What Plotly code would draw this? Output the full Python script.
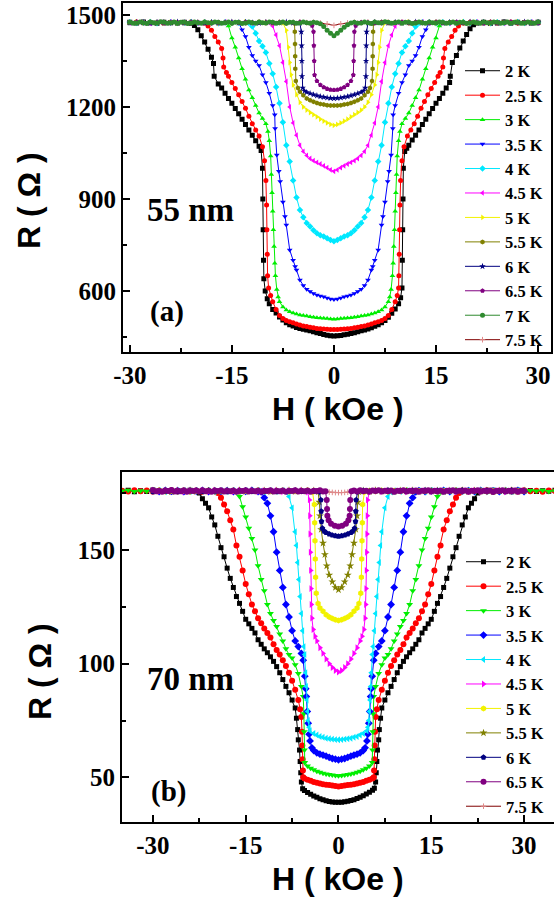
import plotly.graph_objects as go

# ---------------- Panel (a): 55 nm, (H [kOe], R [Ohm]) ----------------
A_2K = [(-30,1476),(-29,1474),(-28,1477),(-27,1475),(-26,1473),(-25,1476),(-24,1475),(-23,1474),(-22,1476),(-21,1473),
        (-20.5,1466),(-20,1452),(-19.5,1432),(-19,1412),(-18.5,1388),(-18,1362),(-17.7,1342),(-17.6,1300),(-17,1275),(-16.5,1262),
        (-16,1245),(-15.5,1228),(-15,1212),(-14.5,1195),(-14,1178),(-13.5,1160),(-13,1143),(-12.5,1125),(-12,1108),(-11.5,1090),
        (-11,1072),(-10.7,1058),(-10.5,1000),(-10.45,900),(-10.4,800),(-10.35,700),(-10.3,640),(-10.1,600),(-9.8,575),(-9.5,558),
        (-9,540),(-8.5,528),(-8,515),(-7.5,505),(-7,496),(-6.5,490),(-6,486),(-5.5,481),(-5,478),(-4.5,475),(-4,473),(-3.5,470),
        (-3,467),(-2.5,464),(-2,461),(-1.5,458),(-1,456),(-0.5,454),(0,453),
        (0.5,454),(1,455),(1.5,457),(2,459),(2.5,461),(3,464),(3.5,467),(4,470),(4.5,473),(5,476),(5.5,480),(6,485),(6.5,490),
        (7,496),(7.5,504),(8,514),(8.5,527),(9,541),(9.5,558),(9.8,578),(10,610),(10.05,700),(10.1,800),(10.15,900),(10.2,1000),
        (10.4,1055),(10.7,1065),(11,1075),(11.5,1092),(12,1108),(12.5,1125),(13,1143),(13.5,1160),(14,1178),(14.5,1195),(15,1212),
        (15.5,1228),(16,1245),(16.5,1262),(17,1280),(17.1,1300),(17.4,1345),(18,1368),(18.5,1392),(19,1415),(19.5,1436),(20,1455),
        (20.5,1468),(21,1474),(22,1476),(23,1473),(24,1475),(25,1477),(26,1474),(27,1476),(28,1475),(29,1474),(30,1476)]

A_25K = [(-30,1475),(-29,1477),(-28,1474),(-27,1476),(-26,1475),(-25,1473),(-24,1476),(-23,1475),(-22,1474),(-21,1477),(-20,1475),(-19,1473),
         (-18.5,1464),(-18,1450),(-17.5,1430),(-17,1412),(-16.5,1391),(-16.3,1360),(-16.2,1330),(-15.8,1312),(-15.5,1300),(-15,1280),
         (-14.5,1260),(-14,1240),(-13.5,1218),(-13,1196),(-12.5,1170),(-12,1145),(-11.5,1125),(-11,1105),(-10.5,1070),(-10.2,1025),
         (-10,960),(-9.9,880),(-9.85,800),(-9.8,720),(-9.75,650),(-9.6,610),(-9.3,585),(-9,565),(-8.5,540),(-8,520),(-7.5,510),
         (-7,504),(-6.5,500),(-6,496),(-5.5,492),(-5,489),(-4.5,486),(-4,484),(-3.5,482),(-3,480),(-2.5,478),(-2,477),(-1.5,476),
         (-1,475),(-0.5,474),(0,474),
         (0.5,474),(1,475),(1.5,476),(2,477),(2.5,478),(3,480),(3.5,482),(4,484),(4.5,486),(5,489),(5.5,492),(6,496),(6.5,500),
         (7,504),(7.5,510),(8,520),(8.5,540),(9,565),(9.3,585),(9.5,610),(9.55,650),(9.6,720),(9.65,800),(9.7,880),(9.8,960),
         (10,1025),(10.3,1070),(10.8,1105),(11.3,1125),(11.8,1145),(12.3,1170),(12.8,1196),(13.3,1218),(13.8,1240),(14.3,1260),
         (14.8,1280),(15.3,1300),(15.6,1312),(16,1330),(16.1,1360),(16.3,1391),(16.8,1412),(17.3,1430),(17.8,1450),(18.3,1464),
         (19,1474),(20,1476),(21,1475),(22,1473),(23,1476),(24,1474),(25,1475),(26,1477),(27,1474),(28,1475),(29,1476),(30,1474)]

A_3K = [(-30,1474),(-29,1476),(-28,1475),(-27,1473),(-26,1477),(-25,1475),(-24,1474),(-23,1476),(-22,1475),(-21,1473),(-20,1476),
        (-19,1474),(-18,1477),(-17,1475),(-16,1473),
        (-15.5,1464),(-15,1425),(-14.5,1395),(-14,1360),(-13.5,1325),(-13,1290),(-12.5,1255),(-12,1230),(-11.5,1205),(-11,1180),
        (-10.5,1162),(-10,1145),(-9.7,1120),(-9.5,1090),(-9.3,1040),(-9.2,980),(-9.1,920),(-9,860),(-8.9,800),(-8.8,745),(-8.7,690),
        (-8.6,650),(-8.4,605),(-8.2,580),(-8,565),(-7.5,548),(-7,538),(-6.5,532),(-6,528),(-5.5,525),(-5,522),(-4.5,520),(-4,518),
        (-3.5,516),(-3,514),(-2.5,513),(-2,512),(-1.5,511),(-1,510),(-0.5,509),(0,508),
        (0.5,509),(1,510),(1.5,511),(2,512),(2.5,513),(3,514),(3.5,516),(4,518),(4.5,520),(5,522),(5.5,525),(6,528),(6.5,532),
        (7,538),(7.5,548),(8,565),(8.2,580),(8.4,605),(8.6,650),(8.7,690),(8.8,745),(8.9,800),(9,860),(9.1,920),(9.2,980),
        (9.3,1040),(9.5,1090),(9.7,1120),(10,1145),(10.5,1162),(11,1180),(11.5,1205),(12,1230),(12.5,1255),(13,1290),(13.5,1325),
        (14,1360),(14.5,1395),(15,1425),(15.5,1464),
        (16,1475),(17,1477),(18,1474),(19,1476),(20,1475),(21,1473),(22,1476),(23,1474),(24,1475),(25,1477),(26,1474),(27,1476),
        (28,1475),(29,1473),(30,1476)]

A_35K = [(-30,1475),(-29,1473),(-28,1476),(-27,1474),(-26,1477),(-25,1475),(-24,1473),(-23,1476),(-22,1475),(-21,1474),(-20,1477),
         (-19,1475),(-18,1473),(-17,1476),(-16,1474),(-15,1475),(-14,1474),
         (-13.5,1452),(-13,1430),(-12.5,1395),(-12,1368),(-11.5,1350),(-11,1335),(-10.5,1305),(-10,1280),(-9.5,1245),(-9,1205),
         (-8.7,1175),(-8.65,1130),(-8.4,1043),(-8.1,990),(-7.9,957),(-7.5,890),(-7.2,843),(-7,815),(-6.5,734),(-6,700),(-5.7,680),
         (-5.5,668),(-5,636),(-4.5,618),(-4,606),(-3.5,598),(-3,592),(-2.5,587),(-2,584),(-1.5,581),(-1,577),(-0.5,574),(0,572),
         (0.5,574),(1,577),(1.5,581),(2,584),(2.5,587),(3,592),(3.5,598),(4,606),(4.5,618),(5,636),(5.5,668),(5.7,680),(6,700),
         (6.5,734),(7,815),(7.2,843),(7.5,890),(7.9,957),(8.1,990),(8.4,1043),(8.65,1130),(8.7,1175),(9,1205),(9.5,1245),(10,1280),
         (10.5,1305),(11,1335),(11.5,1350),(12,1368),(12.5,1395),(13,1430),(13.5,1452),
         (14,1475),(15,1473),(16,1476),(17,1474),(18,1477),(19,1475),(20,1473),(21,1476),(22,1475),(23,1474),(24,1477),(25,1475),
         (26,1473),(27,1476),(28,1474),(29,1475),(30,1476)]

A_4K = [(-30,1476),(-29,1474),(-28,1475),(-27,1477),(-26,1473),(-25,1475),(-24,1476),(-23,1474),(-22,1475),(-21,1477),(-20,1474),
        (-19,1476),(-18,1475),(-17,1473),(-16,1476),(-15,1474),(-14,1475),(-13,1476),(-12.5,1474),
        (-12,1462),(-11.5,1440),(-11,1415),(-10.5,1398),(-10,1378),(-9.5,1342),(-9,1308),(-8.5,1265),(-8,1212),(-7.5,1150),
        (-7,1075),(-6.5,1022),(-6,960),(-5.5,905),(-5,864),(-4.5,840),(-4,822),(-3.5,810),(-3,798),(-2.5,788),(-2,782),(-1.5,778),
        (-1,772),(-0.5,766),(0,762),
        (0.5,766),(1,772),(1.5,778),(2,782),(2.5,788),(3,798),(3.5,810),(4,822),(4.5,840),(5,864),(5.5,905),(6,960),(6.5,1022),
        (7,1075),(7.5,1150),(8,1212),(8.5,1265),(9,1308),(9.5,1342),(10,1378),(10.5,1398),(11,1415),(11.5,1440),(12,1462),
        (12.5,1474),(13,1476),(14,1475),(15,1473),(16,1476),(17,1474),(18,1475),(19,1477),(20,1474),(21,1476),(22,1475),(23,1473),
        (24,1476),(25,1474),(26,1475),(27,1477),(28,1474),(29,1476),(30,1475)]

A_45K = [(-30,1474),(-29,1476),(-28,1475),(-27,1473),(-26,1476),(-25,1475),(-24,1477),(-23,1474),(-22,1476),(-21,1475),(-20,1473),
         (-19,1476),(-18,1474),(-17,1475),(-16,1477),(-15,1474),(-14,1476),(-13,1475),(-12,1473),(-11,1476),(-10,1475),
         (-9.5,1474),(-9,1464),(-8.5,1435),(-8,1400),(-7.5,1345),(-7,1283),(-6.5,1200),(-6,1148),(-5.5,1108),(-5,1075),(-4.5,1055),
         (-4,1042),(-3.5,1032),(-3,1025),(-2.5,1019),(-2,1014),(-1.5,1008),(-1,1002),(-0.5,995),(0,990),
         (0.5,995),(1,1002),(1.5,1008),(2,1014),(2.5,1019),(3,1025),(3.5,1032),(4,1042),(4.5,1055),(5,1075),(5.5,1108),(6,1148),
         (6.5,1200),(7,1283),(7.5,1345),(8,1400),(8.5,1435),(9,1464),(9.5,1474),
         (10,1476),(11,1474),(12,1475),(13,1477),(14,1474),(15,1476),(16,1475),(17,1473),(18,1476),(19,1474),(20,1475),(21,1477),
         (22,1474),(23,1476),(24,1475),(25,1473),(26,1476),(27,1474),(28,1475),(29,1477),(30,1475)]

A_5K = [(-30,1475),(-29,1477),(-28,1474),(-27,1476),(-26,1475),(-25,1473),(-24,1476),(-23,1474),(-22,1475),(-21,1477),(-20,1474),
        (-19,1476),(-18,1475),(-17,1473),(-16,1476),(-15,1474),(-14,1475),(-13,1477),(-12,1474),(-11,1476),(-10,1475),(-9,1473),
        (-8,1476),(-7.5,1474),(-7,1450),(-6.7,1395),(-6.5,1345),(-6.3,1305),(-6,1272),(-5.5,1240),(-5,1215),(-4.5,1200),(-4,1190),
        (-3.5,1182),(-3,1175),(-2.5,1168),(-2,1160),(-1.5,1154),(-1,1148),(-0.5,1143),(0,1140),
        (0.5,1143),(1,1148),(1.5,1154),(2,1160),(2.5,1168),(3,1175),(3.5,1182),(4,1190),(4.5,1200),(5,1215),(5.5,1240),(6,1272),
        (6.3,1305),(6.5,1345),(6.7,1395),(7,1450),(7.5,1474),
        (8,1476),(9,1474),(10,1475),(11,1477),(12,1474),(13,1476),(14,1475),(15,1473),(16,1476),(17,1474),(18,1475),(19,1477),
        (20,1474),(21,1476),(22,1475),(23,1473),(24,1476),(25,1474),(26,1475),(27,1477),(28,1474),(29,1476),(30,1475)]

A_55K = [(-30,1476),(-29,1474),(-28,1475),(-27,1477),(-26,1474),(-25,1476),(-24,1475),(-23,1473),(-22,1476),(-21,1474),(-20,1475),
         (-19,1477),(-18,1474),(-17,1476),(-16,1475),(-15,1473),(-14,1476),(-13,1474),(-12,1475),(-11,1477),(-10,1474),(-9,1476),
         (-8,1475),(-7,1473),(-6,1475),
         (-5.8,1472),(-5.75,1445),(-5.72,1405),(-5.7,1365),(-5.68,1325),(-5.6,1285),(-5.3,1262),(-5,1250),(-4.5,1238),(-4,1228),
         (-3.5,1222),(-3,1217),(-2.5,1213),(-2,1210),(-1.5,1208),(-1,1206),(-0.5,1205),(0,1205),
         (0.5,1205),(1,1206),(1.5,1208),(2,1210),(2.5,1213),(3,1217),(3.5,1222),(4,1228),(4.5,1238),(5,1250),(5.3,1262),(5.6,1285),
         (5.68,1325),(5.7,1365),(5.72,1405),(5.75,1445),(5.8,1472),
         (6,1475),(7,1477),(8,1474),(9,1476),(10,1475),(11,1473),(12,1476),(13,1474),(14,1475),(15,1477),(16,1474),(17,1476),
         (18,1475),(19,1473),(20,1476),(21,1474),(22,1475),(23,1477),(24,1474),(25,1476),(26,1475),(27,1473),(28,1476),(29,1474),
         (30,1475)]

A_6K = [(-30,1474),(-29,1476),(-28,1475),(-27,1473),(-26,1476),(-25,1474),(-24,1475),(-23,1477),(-22,1474),(-21,1476),(-20,1475),
        (-19,1473),(-18,1476),(-17,1474),(-16,1475),(-15,1477),(-14,1474),(-13,1476),(-12,1475),(-11,1473),(-10,1476),(-9,1474),
        (-8,1475),(-7,1477),(-6,1474),(-5,1474),
        (-4.8,1445),(-4.75,1400),(-4.72,1350),(-4.7,1300),(-4.6,1262),(-4.3,1252),(-4,1248),(-3.5,1244),(-3,1240),(-2.5,1237),
        (-2,1234),(-1.5,1232),(-1,1230),(-0.5,1229),(0,1228),
        (0.5,1229),(1,1230),(1.5,1232),(2,1234),(2.5,1237),(3,1240),(3.5,1244),(4,1248),(4.3,1252),(4.6,1262),(4.7,1300),
        (4.72,1350),(4.75,1400),(4.8,1445),
        (5,1474),(6,1476),(7,1475),(8,1473),(9,1476),(10,1474),(11,1475),(12,1477),(13,1474),(14,1476),(15,1475),(16,1473),
        (17,1476),(18,1474),(19,1475),(20,1477),(21,1474),(22,1476),(23,1475),(24,1473),(25,1476),(26,1474),(27,1475),(28,1477),
        (29,1474),(30,1476)]

A_65K = [(-30,1475),(-29,1477),(-28,1474),(-27,1476),(-26,1475),(-25,1473),(-24,1476),(-23,1474),(-22,1475),(-21,1477),(-20,1474),
         (-19,1476),(-18,1475),(-17,1473),(-16,1476),(-15,1474),(-14,1475),(-13,1477),(-12,1474),(-11,1476),(-10,1475),(-9,1473),
         (-8,1476),(-7,1474),(-6,1475),(-5,1477),(-4,1474),
         (-3.5,1474),(-3.2,1465),(-3,1445),(-2.95,1400),(-2.9,1350),(-2.85,1304),(-2.5,1285),(-2,1272),(-1.5,1264),(-1,1259),
         (-0.5,1256),(0,1255),
         (0.5,1256),(1,1259),(1.5,1264),(2,1272),(2.5,1285),(2.85,1304),(2.9,1350),(2.95,1400),(3,1445),(3.2,1465),(3.5,1474),
         (4,1476),(5,1475),(6,1473),(7,1476),(8,1474),(9,1475),(10,1477),(11,1474),(12,1476),(13,1475),(14,1473),(15,1476),
         (16,1474),(17,1475),(18,1477),(19,1474),(20,1476),(21,1475),(22,1473),(23,1476),(24,1474),(25,1475),(26,1477),(27,1474),
         (28,1476),(29,1475),(30,1473)]

A_7K = [(-30,1476),(-29.5,1473),(-29,1474),(-28.5,1477),(-28,1475),(-27.5,1472),(-27,1477),(-26.5,1475),(-26,1474),(-25.5,1478),
        (-25,1476),(-24.5,1473),(-24,1475),(-23.5,1477),(-23,1473),(-22.5,1476),(-22,1476),(-21.5,1472),(-21,1474),(-20.5,1477),
        (-20,1475),(-19.5,1473),(-19,1477),(-18.5,1475),(-18,1474),(-17.5,1477),(-17,1476),(-16.5,1473),(-16,1475),(-15.5,1477),
        (-15,1473),(-14.5,1476),(-14,1476),(-13.5,1472),(-13,1474),(-12.5,1477),(-12,1475),(-11.5,1473),(-11,1477),(-10.5,1475),
        (-10,1474),(-9.5,1477),(-9,1476),(-8.5,1473),(-8,1475),(-7.5,1477),(-7,1473),(-6.5,1476),(-6,1476),(-5.5,1473),(-5,1474),
        (-4.5,1477),(-4,1475),(-3.5,1473),(-3,1476),(-2.5,1475),
        (-2,1471),(-1.5,1462),(-1,1450),(-0.5,1440),(0,1432),(0.5,1440),(1,1450),(1.5,1460),(2,1468),(2.5,1474),
        (3,1476),(3.5,1473),(4,1474),(4.5,1477),(5,1475),(5.5,1472),(6,1477),(6.5,1475),(7,1474),(7.5,1478),(8,1476),(8.5,1473),
        (9,1475),(9.5,1477),(10,1473),(10.5,1476),(11,1476),(11.5,1472),(12,1474),(12.5,1477),(13,1475),(13.5,1473),(14,1477),
        (14.5,1475),(15,1474),(15.5,1477),(16,1476),(16.5,1473),(17,1475),(17.5,1477),(18,1473),(18.5,1476),(19,1476),
        (19.5,1472),(20,1474),(20.5,1477),(21,1475),(21.5,1473),(22,1477),(22.5,1475),(23,1474),(23.5,1477),(24,1476),
        (24.5,1473),(25,1475),(25.5,1477),(26,1473),(26.5,1476),(27,1476),(27.5,1473),(28,1474),(28.5,1477),(29,1475),
        (29.5,1473),(30,1477)]

A_75K = [(-30,1477),(-29,1475),(-28,1476),(-27,1474),(-26,1476),(-25,1477),(-24,1475),(-23,1476),(-22,1474),(-21,1476),(-20,1477),
         (-19,1475),(-18,1476),(-17,1474),(-16,1476),(-15,1477),(-14,1475),(-13,1476),(-12,1474),(-11,1476),(-10,1477),(-9,1475),
         (-8,1476),(-7,1474),(-6,1476),(-5,1477),(-4,1475),(-3,1476),(-2,1474),(-1,1471),(0,1466),(1,1471),(2,1474),(3,1476),
         (4,1475),(5,1477),(6,1476),(7,1474),(8,1476),(9,1475),(10,1477),(11,1476),(12,1474),(13,1476),(14,1475),(15,1477),
         (16,1476),(17,1474),(18,1476),(19,1475),(20,1477),(21,1476),(22,1474),(23,1476),(24,1475),(25,1477),(26,1476),(27,1474),
         (28,1476),(29,1475),(30,1477)]

# ---------------- Panel (b): 70 nm ----------------
B_2K = [(-35,175.8),(-34,176.2),(-33,175.6),(-32,176.0),(-31,175.7),(-30,176.3),(-29,175.8),(-28,176.1),(-27,175.6),(-26,176.0),
        (-25,175.9),(-24,176.2),(-23,175.7),
        (-22.5,175.0),(-22,172.5),(-21.5,170.5),(-21,168.5),(-20.5,164.5),(-20,161.0),(-19.5,156.0),(-19,151.0),(-18.5,147.0),
        (-18,142.0),(-17.5,137.5),(-17,133.5),(-16.5,129.5),(-16,126.5),(-15.5,123.0),(-15,119.5),(-14.5,117.5),(-14,115.5),
        (-13.5,113.5),(-13,110.5),(-12.5,108.5),(-12,106.5),(-11.5,104.8),(-11,103.0),(-10.5,101.0),(-10,98.7),(-9.5,96.0),
        (-9,93.0),(-8.5,90.0),(-8,87.2),(-7.5,84.0),(-7,80.5),(-6.8,76.0),(-6.6,71.0),(-6.5,66.5),(-6.3,62.0),(-6.2,57.0),
        (-6.1,52.0),(-6.0,48.0),(-5.8,45.0),(-5.5,44.2),(-5,43.3),(-4.5,42.6),(-4,41.8),(-3.5,41.2),(-3,40.6),(-2.5,40.1),
        (-2,39.7),(-1.5,39.4),(-1,39.2),(-0.5,39.0),(0,39.0),
        (0.5,39.1),(1,39.3),(1.5,39.5),(2,39.8),(2.5,40.2),(3,40.7),(3.5,41.3),(4,41.9),(4.5,42.7),(5,43.4),(5.5,44.3),(5.8,45.2),
        (6.0,48.0),(6.1,52.0),(6.2,57.0),(6.3,62.0),(6.5,66.5),(6.6,71.0),(6.8,76.0),(7,80.5),(7.5,84.0),(8,87.2),(8.5,90.0),
        (9,93.0),(9.5,96.0),(10,98.7),(10.5,101.0),(11,103.0),(11.5,104.8),(12,106.5),(12.5,108.5),(13,110.5),(13.5,113.5),
        (14,115.5),(14.5,117.5),(15,119.5),(15.5,123.0),(16,126.5),(16.5,129.5),(17,133.5),(17.5,137.5),(18,142.0),(18.5,147.0),
        (19,151.0),(19.5,156.0),(20,161.0),(20.5,164.5),(21,168.5),(21.5,170.5),(22,172.5),(22.5,175.0),
        (23,176.1),(24,175.7),(25,176.2),(26,175.8),(27,176.0),(28,175.6),(29,176.2),(30,175.9),(31,176.1),(32,175.7),(33,176.0),
        (34,175.8),(35,176.2)]

B_25K = [(-35,176.0),(-34,175.7),(-33,176.2),(-32,175.8),(-31,176.1),(-30,175.6),(-29,176.0),(-28,175.9),(-27,176.2),(-26,175.7),
         (-25,176.0),(-24,175.8),(-23,176.1),(-22,175.6),(-21,176.0),(-20,175.8),
         (-19.5,175.0),(-19,173.0),(-18.5,170.0),(-18,167.0),(-17.5,163.0),(-17,159.0),(-16.5,152.0),(-16,147.0),(-15.5,141.0),
         (-15,135.0),(-14.5,130.5),(-14,126.0),(-13.5,123.0),(-13,120.0),(-12.5,117.8),(-12,115.5),(-11.5,113.5),(-11,111.5),
         (-10.5,108.5),(-10,106.0),(-9.5,104.0),(-9,101.5),(-8.5,99.0),(-8,96.0),(-7.5,92.5),(-7,88.5),(-6.5,84.0),(-6.2,80.0),
         (-6,76.5),(-5.9,70.0),(-5.85,64.0),(-5.8,58.0),(-5.75,53.0),(-5.7,50.0),(-5.5,49.5),(-5,49.0),(-4.5,48.5),(-4,48.0),
         (-3.5,47.6),(-3,47.3),(-2.5,47.0),(-2,46.8),(-1.5,46.6),(-1,46.4),(-0.5,46.2),(0,46.0),
         (0.5,46.2),(1,46.4),(1.5,46.6),(2,46.8),(2.5,47.0),(3,47.3),(3.5,47.6),(4,48.0),(4.5,48.5),(5,49.0),(5.5,49.5),(5.7,50.0),
         (5.75,53.0),(5.8,58.0),(5.85,64.0),(5.9,70.0),(6,76.5),(6.2,80.0),(6.5,84.0),(7,88.5),(7.5,92.5),(8,96.0),(8.5,99.0),
         (9,101.5),(9.5,104.0),(10,106.0),(10.5,108.5),(11,111.5),(11.5,113.5),(12,115.5),(12.5,117.8),(13,120.0),(13.5,123.0),
         (14,126.0),(14.5,130.5),(15,135.0),(15.5,141.0),(16,147.0),(16.5,152.0),(17,159.0),(17.5,163.0),(18,167.0),(18.5,170.0),
         (19,173.0),(19.5,175.0),
         (20,176.1),(21,175.7),(22,176.0),(23,175.8),(24,176.2),(25,175.6),(26,176.0),(27,175.9),(28,176.1),(29,175.7),(30,176.2),
         (31,175.8),(32,176.0),(33,175.6),(34,176.1),(35,175.9)]

B_3K = [(-35,175.9),(-34,176.2),(-33,175.7),(-32,176.0),(-31,175.8),(-30,176.1),(-29,175.6),(-28,176.0),(-27,175.8),(-26,176.2),
        (-25,175.7),(-24,176.0),(-23,175.9),(-22,176.1),(-21,175.6),(-20,176.0),(-19,175.8),(-18,176.2),(-17,175.7),
        (-16.5,175.5),(-16,173.5),(-15.5,169.0),(-15,164.5),(-14.5,159.5),(-14,155.0),(-13.5,150.0),(-13,143.0),(-12.5,137.0),
        (-12,132.0),(-11.5,126.0),(-11,122.0),(-10.5,119.0),(-10,116.3),(-9.5,113.0),(-9,110.0),(-8.5,106.5),(-8,104.0),
        (-7.5,102.5),(-7,99.5),(-6.5,95.7),(-6,90.0),(-5.7,85.5),(-5.6,78.0),(-5.55,70.0),(-5.5,62.0),(-5.45,56.5),(-5,55.0),
        (-4.5,54.0),(-4,53.3),(-3.5,52.7),(-3,52.2),(-2.5,51.8),(-2,51.5),(-1.5,51.2),(-1,51.0),(-0.5,50.8),(0,50.7),
        (0.5,50.8),(1,51.0),(1.5,51.2),(2,51.5),(2.5,51.8),(3,52.2),(3.5,52.7),(4,53.3),(4.5,54.0),(5,55.0),(5.45,56.5),(5.5,62.0),
        (5.55,70.0),(5.6,78.0),(5.7,85.5),(6,90.0),(6.5,95.7),(7,99.5),(7.5,102.5),(8,104.0),(8.5,106.5),(9,110.0),(9.5,113.0),
        (10,116.3),(10.5,119.0),(11,122.0),(11.5,126.0),(12,132.0),(12.5,137.0),(13,143.0),(13.5,150.0),(14,155.0),(14.5,159.5),
        (15,164.5),(15.5,169.0),(16,173.5),(16.5,175.5),
        (17,176.1),(18,175.7),(19,176.0),(20,175.8),(21,176.2),(22,175.6),(23,176.0),(24,175.9),(25,176.1),(26,175.7),(27,176.2),
        (28,175.8),(29,176.0),(30,175.6),(31,176.1),(32,175.9),(33,176.2),(34,175.7),(35,176.0)]

B_35K = [(-30,176.0),(-29,175.7),(-28,176.2),(-27,175.8),(-26,176.1),(-25,175.6),(-24,176.0),(-23,175.9),(-22,176.2),(-21,175.7),
         (-20,176.0),(-19,175.8),(-18,176.1),(-17,175.6),(-16,176.0),(-15,175.8),(-14,176.2),(-13,175.7),
         (-12.5,175.5),(-12,173.0),(-11.5,170.5),(-11,165.0),(-10.5,158.0),(-10,149.0),(-9.5,141.0),(-9,133.5),(-8.5,126.0),
         (-8,120.5),(-7.5,114.5),(-7,110.0),(-6.5,107.5),(-6,104.5),(-5.7,101.5),(-5.45,94.5),(-5.3,89.0),(-5.2,85.5),
         (-5.05,79.0),(-4.9,73.8),(-4.75,69.0),(-4.6,66.0),(-4.3,63.0),(-4,61.8),(-3.5,60.8),(-3,60.2),(-2.5,59.8),(-2,59.3),
         (-1.5,58.8),(-1,58.3),(-0.5,58.0),(0,57.7),
         (0.5,58.0),(1,58.3),(1.5,58.8),(2,59.3),(2.5,59.8),(3,60.2),(3.5,60.8),(4,61.8),(4.3,63.0),(4.6,66.0),(4.75,69.0),
         (4.9,73.8),(5.05,79.0),(5.2,85.5),(5.3,89.0),(5.45,94.5),(5.7,101.5),(6,104.5),(6.5,107.5),(7,110.0),(7.5,114.5),
         (8,120.5),(8.5,126.0),(9,133.5),(9.5,141.0),(10,149.0),(10.5,158.0),(11,165.0),(11.5,170.5),(12,173.0),(12.5,175.5),
         (13,176.1),(14,175.7),(15,176.0),(16,175.8),(17,176.2),(18,175.6),(19,176.0),(20,175.9),(21,176.1),(22,175.7),(23,176.2),
         (24,175.8),(25,176.0),(26,175.6),(27,176.1),(28,175.9),(29,176.2),(30,175.7)]

B_4K = [(-30,175.8),(-29,176.1),(-28,175.6),(-27,176.0),(-26,175.9),(-25,176.2),(-24,175.7),(-23,176.0),(-22,175.8),(-21,176.1),
        (-20,175.6),(-19,176.0),(-18,175.8),(-17,176.2),(-16,175.7),(-15,176.0),(-14,175.9),(-13,176.1),(-12,175.6),(-11,176.0),
        (-10,175.8),(-9,176.1),
        (-8.5,175.5),(-8,173.5),(-7.5,168.5),(-7,158.0),(-6.8,152.0),(-6.6,144.5),(-6.4,137.0),(-6.2,129.5),(-6,122.0),
        (-5.8,114.5),(-5.6,107.5),(-5.45,104.0),(-5.3,96.0),(-5.2,90.0),(-5.1,84.0),(-5,79.0),(-4.9,75.0),(-4.75,72.0),
        (-4.6,70.5),(-4,69.3),(-3.5,68.6),(-3,68.0),(-2.5,67.6),(-2,67.2),(-1.5,67.0),(-1,66.8),(-0.5,66.6),(0,66.5),
        (0.5,66.6),(1,66.8),(1.5,67.0),(2,67.2),(2.5,67.6),(3,68.0),(3.5,68.6),(4,69.3),(4.6,70.5),(4.75,72.0),(4.9,75.0),
        (5,79.0),(5.1,84.0),(5.2,90.0),(5.3,96.0),(5.45,104.0),(5.6,107.5),(5.8,114.5),(6,122.0),(6.2,129.5),(6.4,137.0),
        (6.6,144.5),(6.8,152.0),(7,158.0),(7.5,168.5),(8,173.5),(8.5,175.5),
        (9,176.0),(10,175.7),(11,176.2),(12,175.8),(13,176.0),(14,175.6),(15,176.1),(16,175.9),(17,176.2),(18,175.7),(19,176.0),
        (20,175.8),(21,176.1),(22,175.6),(23,176.0),(24,175.9),(25,176.2),(26,175.7),(27,176.0),(28,175.8),(29,176.1),(30,175.9)]

B_45K = [(-30,176.1),(-29,175.7),(-28,176.0),(-27,175.8),(-26,176.2),(-25,175.6),(-24,176.0),(-23,175.9),(-22,176.1),(-21,175.7),
         (-20,176.2),(-19,175.8),(-18,176.0),(-17,175.6),(-16,176.1),(-15,175.9),(-14,176.2),(-13,175.7),(-12,176.0),(-11,175.8),
         (-10,176.1),(-9,175.6),(-8,176.0),(-7,175.9),(-6,176.2),
         (-5,175.5),(-4.7,172.0),(-4.65,165.0),(-4.6,157.0),(-4.55,149.0),(-4.5,141.0),(-4.45,133.0),(-4.4,126.0),(-4.3,120.0),
         (-4.1,115.0),(-3.8,112.0),(-3.5,110.0),(-3,107.0),(-2.5,104.5),(-2,102.0),(-1.5,100.0),(-1,98.3),(-0.5,97.0),(0,96.3),
         (0.5,97.0),(1,98.3),(1.5,100.0),(2,102.0),(2.5,104.5),(3,107.0),(3.5,110.0),(3.8,112.0),(4.1,115.0),(4.3,120.0),
         (4.4,126.0),(4.45,133.0),(4.5,141.0),(4.55,149.0),(4.6,157.0),(4.65,165.0),(4.7,172.0),(5,175.5),
         (6,176.0),(7,175.7),(8,176.2),(9,175.8),(10,176.0),(11,175.6),(12,176.1),(13,175.9),(14,176.2),(15,175.7),(16,176.0),
         (17,175.8),(18,176.1),(19,175.6),(20,176.0),(21,175.9),(22,176.2),(23,175.7),(24,176.0),(25,175.8),(26,176.1),
         (27,175.6),(28,176.0),(29,175.9),(30,176.2)]

B_5K = [(-30,175.9),(-29,176.2),(-28,175.7),(-27,176.0),(-26,175.8),(-25,176.1),(-24,175.6),(-23,176.0),(-22,175.9),(-21,176.2),
        (-20,175.7),(-19,176.0),(-18,175.8),(-17,176.1),(-16,175.6),(-15,176.0),(-14,175.9),(-13,176.2),(-12,175.7),(-11,176.0),
        (-10,175.8),(-9,176.1),(-8,175.6),(-7,176.0),(-6,175.9),(-5,176.2),
        (-4.2,175.5),(-3.9,170.0),(-3.85,162.0),(-3.8,154.0),(-3.75,146.0),(-3.7,138.0),(-3.6,131.0),(-3.3,126.5),(-3,124.5),
        (-2.5,123.0),(-2,121.5),(-1.5,120.5),(-1,119.8),(-0.5,119.3),(0,119.0),
        (0.5,119.3),(1,119.8),(1.5,120.5),(2,121.5),(2.5,123.0),(3,124.5),(3.3,126.5),(3.6,131.0),(3.7,138.0),(3.75,146.0),
        (3.8,154.0),(3.85,162.0),(3.9,170.0),(4.2,175.5),
        (5,176.0),(6,175.8),(7,176.1),(8,175.6),(9,176.0),(10,175.9),(11,176.2),(12,175.7),(13,176.0),(14,175.8),(15,176.1),
        (16,175.6),(17,176.0),(18,175.9),(19,176.2),(20,175.7),(21,176.0),(22,175.8),(23,176.1),(24,175.6),(25,176.0),(26,175.9),
        (27,176.2),(28,175.7),(29,176.0),(30,175.8)]

B_55K = [(-30,176.0),(-29,175.8),(-28,176.1),(-27,175.6),(-26,176.0),(-25,175.9),(-24,176.2),(-23,175.7),(-22,176.0),(-21,175.8),
         (-20,176.1),(-19,175.6),(-18,176.0),(-17,175.9),(-16,176.2),(-15,175.7),(-14,176.0),(-13,175.8),(-12,176.1),(-11,175.6),
         (-10,176.0),(-9,175.9),(-8,176.2),(-7,175.7),(-6,176.0),(-5,175.8),(-4,176.1),
         (-3.3,175.5),(-3.1,171.0),(-3.0,165.0),(-2.8,159.0),(-2.5,153.0),(-2.2,148.0),(-1.9,143.0),(-1.5,139.0),(-1,136.0),
         (-0.5,133.5),(0,132.5),
         (0.5,133.5),(1,136.0),(1.5,139.0),(1.9,143.0),(2.2,148.0),(2.5,153.0),(2.8,159.0),(3.0,165.0),(3.1,171.0),(3.3,175.5),
         (4,176.0),(5,175.7),(6,176.2),(7,175.8),(8,176.0),(9,175.6),(10,176.1),(11,175.9),(12,176.2),(13,175.7),(14,176.0),
         (15,175.8),(16,176.1),(17,175.6),(18,176.0),(19,175.9),(20,176.2),(21,175.7),(22,176.0),(23,175.8),(24,176.1),(25,175.6),
         (26,176.0),(27,175.9),(28,176.2),(29,175.7),(30,176.0)]

B_6K = [(-30,175.7),(-29,176.0),(-28,175.8),(-27,176.2),(-26,175.6),(-25,176.0),(-24,175.9),(-23,176.1),(-22,175.7),(-21,176.2),
        (-20,175.8),(-19,176.0),(-18,175.6),(-17,176.1),(-16,175.9),(-15,176.2),(-14,175.7),(-13,176.0),(-12,175.8),(-11,176.1),
        (-10,175.6),(-9,176.0),(-8,175.9),(-7,176.2),(-6,175.7),(-5,176.0),(-4,175.8),
        (-3.1,175.5),(-2.85,172.0),(-2.8,167.0),(-2.75,162.5),(-2.6,159.5),(-2.3,158.2),(-2,157.6),(-1.5,157.0),(-1,156.5),
        (-0.5,156.2),(0,156.0),
        (0.5,156.2),(1,156.5),(1.5,157.0),(2,157.6),(2.3,158.2),(2.6,159.5),(2.75,162.5),(2.8,167.0),(2.85,172.0),(3.1,175.5),
        (4,176.1),(5,175.7),(6,176.0),(7,175.8),(8,176.2),(9,175.6),(10,176.0),(11,175.9),(12,176.1),(13,175.7),(14,176.2),
        (15,175.8),(16,176.0),(17,175.6),(18,176.1),(19,175.9),(20,176.2),(21,175.7),(22,176.0),(23,175.8),(24,176.1),(25,175.6),
        (26,176.0),(27,175.9),(28,176.2),(29,175.7),(30,176.0)]

B_65K = [(-30,176.2),(-29.5,175.8),(-29,176.0),(-28.5,175.6),(-28,176.1),(-27.5,175.9),(-27,176.3),(-26.5,175.7),(-26,176.0),
         (-25.5,175.8),(-25,176.2),(-24.5,175.6),(-24,176.0),(-23.5,175.9),(-23,176.1),(-22.5,175.7),(-22,176.2),(-21.5,175.8),
         (-21,176.0),(-20.5,175.6),(-20,176.1),(-19.5,175.9),(-19,176.2),(-18.5,175.7),(-18,176.0),(-17.5,175.8),(-17,176.1),
         (-16.5,175.6),(-16,176.0),(-15.5,175.9),(-15,176.2),(-14.5,175.7),(-14,176.0),(-13.5,175.8),(-13,176.1),(-12.5,175.6),
         (-12,176.0),(-11.5,175.9),(-11,176.2),(-10.5,175.7),(-10,176.0),(-9.5,175.8),(-9,176.1),(-8.5,175.6),(-8,176.0),
         (-7.5,175.9),(-7,176.2),(-6.5,175.7),(-6,176.0),(-5.5,175.8),(-5,176.1),(-4.5,175.6),(-4,176.0),(-3.5,175.9),(-3,176.2),
         (-2.5,175.7),(-2.1,175.8),
         (-1.9,172.0),(-1.85,168.0),(-1.8,165.0),(-1.6,163.0),(-1.2,161.5),(-0.6,160.6),(0,160.3),
         (0.6,160.6),(1.2,161.5),(1.6,163.0),(1.8,165.0),(1.85,168.0),(1.9,172.0),
         (2.1,175.8),(2.5,176.1),(3,175.7),(3.5,176.2),(4,175.8),(4.5,176.0),(5,175.6),(5.5,176.1),(6,175.9),(6.5,176.2),(7,175.7),
         (7.5,176.0),(8,175.8),(8.5,176.1),(9,175.6),(9.5,176.0),(10,175.9),(10.5,176.2),(11,175.7),(11.5,176.0),(12,175.8),
         (12.5,176.1),(13,175.6),(13.5,176.0),(14,175.9),(14.5,176.2),(15,175.7),(15.5,176.0),(16,175.8),(16.5,176.1),(17,175.6),
         (17.5,176.0),(18,175.9),(18.5,176.2),(19,175.7),(19.5,176.0),(20,175.8),(20.5,176.1),(21,175.6),(21.5,176.0),(22,175.9),
         (22.5,176.2),(23,175.7),(23.5,176.0),(24,175.8),(24.5,176.1),(25,175.6),(25.5,176.0),(26,175.9),(26.5,176.2),(27,175.7),
         (27.5,176.0),(28,175.8),(28.5,176.1),(29,175.6),(29.5,176.0),(30,175.9)]

B_75K = [(-30,175.6),(-29,175.8),(-28,175.5),(-27,175.7),(-26,175.6),(-25,175.8),(-24,175.5),(-23,175.7),(-22,175.6),(-21,175.8),
         (-20,175.5),(-19,175.7),(-18,175.6),(-17,175.8),(-16,175.5),(-15,175.7),(-14,175.6),(-13,175.8),(-12,175.5),(-11,175.7),
         (-10,175.6),(-9,175.8),(-8,175.5),(-7,175.7),(-6,175.6),(-5,175.8),(-4,175.5),(-3,175.7),(-2,175.6),(-1.5,175.4),
         (-1,175.3),(-0.5,175.2),(0,175.2),(0.5,175.2),(1,175.3),(1.5,175.4),(2,175.6),(3,175.7),(4,175.5),(5,175.8),(6,175.6),
         (7,175.7),(8,175.5),(9,175.8),(10,175.6),(11,175.7),(12,175.5),(13,175.8),(14,175.6),(15,175.7),(16,175.5),(17,175.8),
         (18,175.6),(19,175.7),(20,175.5),(21,175.8),(22,175.6),(23,175.7),(24,175.5),(25,175.8),(26,175.6),(27,175.7),(28,175.5),
         (29,175.8),(30,175.6)]

LABELS_A = ["2 K", "2.5 K", "3 K", "3.5 K", "4 K", "4.5 K", "5 K", "5.5 K", "6 K", "6.5 K", "7 K", "7.5 K"]
LABELS_B = ["2 K", "2.5 K", "3 K", "3.5 K", "4 K", "4.5 K", "5 K", "5.5 K", "6 K", "6.5 K", "7.5 K"]
SERIES_A = [A_2K, A_25K, A_3K, A_35K, A_4K, A_45K, A_5K, A_55K, A_6K, A_65K, A_7K, A_75K]
SERIES_B = [B_2K, B_25K, B_3K, B_35K, B_4K, B_45K, B_5K, B_55K, B_6K, B_65K, B_75K]

# tick values / labels (plain hyphen minus as in the original figure)
H_TICKS = [-30, -15, 0, 15, 30]
H_TICKTEXT = ["-30", "-15", "0", "15", "30"]

COLORS_A = ["#000000", "#FF0000", "#00EE00", "#0000FF", "#00E8FF", "#FF00FF", "#F2F200", "#808000",
            "#000080", "#800080", "#2F8A2F", "#800000"]
MCOLORS_A = COLORS_A[:-1] + ["#E08A8A"]
SYMBOLS_A = ["square", "circle", "triangle-up", "triangle-down", "diamond", "triangle-left", "triangle-right",
             "hexagon", "star", "pentagon", "circle", "cross-thin"]
SIZES_A = [5, 5, 5, 5, 5, 5, 5, 5, 5, 5, 5, 4]

COLORS_B = ["#000000", "#FF0000", "#00EE00", "#0000FF", "#00E8FF", "#FF00FF", "#F2F200", "#808000",
            "#000080", "#800080", "#800000"]
MCOLORS_B = COLORS_B[:-1] + ["#E08A8A"]
SYMBOLS_B = ["square", "circle", "triangle-down", "diamond", "triangle-left", "triangle-right", "hexagon",
             "star", "pentagon", "circle", "cross-thin"]
SIZES_B = [5, 6, 6, 6, 6, 6, 6, 6, 6, 6, 4]

W, H = 554, 901
SERIF = "Liberation Serif, Times New Roman, serif"
SANS = "Liberation Sans, Arial, sans-serif"

fig = go.Figure()


def add_panel(series, labels, colors, mcolors, symbols, sizes, xa, ya, leg):
    n = len(series)
    # the highest temperature curve sits underneath the others (as in the original figure)
    order = [n - 1] + list(range(n - 1))
    for i in order:
        pts = series[i]
        sym = symbols[i]
        fig.add_trace(go.Scatter(
            x=[p[0] for p in pts], y=[p[1] for p in pts], mode="lines+markers", name=labels[i],
            legendrank=i + 1,
            line=dict(color=colors[i], width=1),
            marker=dict(symbol=sym, size=sizes[i], color=mcolors[i],
                        line=dict(width=1 if sym == "cross-thin" else 0, color=mcolors[i])),
            xaxis=xa, yaxis=ya, legend=leg))


add_panel(SERIES_A, LABELS_A, COLORS_A, MCOLORS_A, SYMBOLS_A, SIZES_A, "x", "y", "legend")
add_panel(SERIES_B, LABELS_B, COLORS_B, MCOLORS_B, SYMBOLS_B, SIZES_B, "x2", "y2", "legend2")

tickfont = dict(family=SERIF, size=25, color="black", weight="bold")
common = dict(showline=True, linecolor="black", linewidth=2, ticks="inside", ticklen=7, tickwidth=2,
              tickcolor="black", showgrid=False, zeroline=False, tickfont=tickfont, automargin=False)
xminor = dict(ticks="inside", ticklen=4, tickwidth=1.5, tickcolor="black", tickmode="linear", tick0=0, dtick=7.5)

legfont = dict(family=SERIF, size=16.5, color="black", weight="bold")

fig.update_layout(
    template="none",
    width=W, height=H, margin=dict(l=0, r=0, t=0, b=0, autoexpand=False),
    paper_bgcolor="white", plot_bgcolor="white", showlegend=True,
    xaxis=dict(domain=[123 / W, 551 / W], range=[-31.0, 31.9], anchor="y", tickmode="array",
               tickvals=H_TICKS, ticktext=H_TICKTEXT, mirror=True, minor=xminor, **common),
    yaxis=dict(domain=[1 - 351.7 / H, 1 - 3 / H], range=[402, 1539], anchor="x", tickmode="linear", tick0=0, dtick=300,
               mirror=True, minor=dict(ticks="inside", ticklen=4, tickwidth=1.5, tickcolor="black", dtick=150),
               **common),
    xaxis2=dict(domain=[122 / W, 1.0], range=[-35.0, 34.84], anchor="y2", tickmode="array",
                tickvals=H_TICKS, ticktext=H_TICKTEXT, mirror=True, minor=xminor, **common),
    yaxis2=dict(domain=[1 - 821.7 / H, 1 - 471.7 / H], range=[30.5, 184.4], anchor="x2", tickmode="linear", tick0=0,
                dtick=50, mirror=False,
                minor=dict(ticks="inside", ticklen=4, tickwidth=1.5, tickcolor="black", dtick=25),
                **common),
    legend=dict(x=460 / W, y=1 - 53.5 / H, xanchor="left", yanchor="top", bgcolor="rgba(0,0,0,0)",
                borderwidth=0, font=legfont, itemwidth=35, tracegroupgap=0),
    legend2=dict(x=461 / W, y=1 - 544.5 / H, xanchor="left", yanchor="top", bgcolor="rgba(0,0,0,0)",
                 borderwidth=0, font=legfont, itemwidth=35, tracegroupgap=0),
)

ann_serif = dict(family=SERIF, color="black", weight="bold")
ann_sans = dict(family=SANS, color="black", weight="bold", size=32)
annotations = [
    dict(text="55 nm", x=190 / W, y=1 - 210 / H, font=dict(size=33, **ann_serif)),
    dict(text="(a)", x=167 / W, y=1 - 311 / H, font=dict(size=29, **ann_serif)),
    dict(text="70 nm", x=190 / W, y=1 - 679 / H, font=dict(size=33, **ann_serif)),
    dict(text="(b)", x=168 / W, y=1 - 791 / H, font=dict(size=29, **ann_serif)),
    dict(text="H ( kOe )", x=338 / W, y=1 - 409 / H, font=ann_sans),
    dict(text="H ( kOe )", x=338 / W, y=1 - 879 / H, font=ann_sans),
    dict(text="R ( Ω )", x=29 / W, y=1 - 201 / H, textangle=-90, font=ann_sans),
    dict(text="R ( Ω )", x=40 / W, y=1 - 672 / H, textangle=-90, font=ann_sans),
]
for a in annotations:
    fig.add_annotation(xref="paper", yref="paper", xanchor="center", yanchor="middle", showarrow=False, **a)

# remove the browser's default page margin so the 554x901 figure fills the window exactly
fig.write_html("out.html", config={"displayModeBar": False},
               post_script="document.body.style.margin='0px';document.body.style.padding='0px';"
                           "document.documentElement.style.overflow='hidden';")
